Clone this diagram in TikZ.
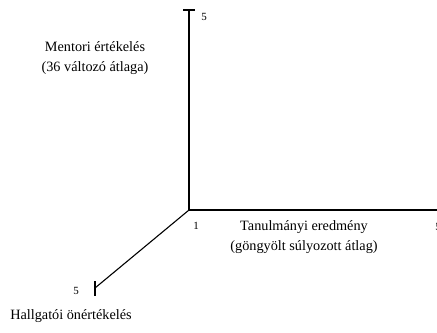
\documentclass[tikz,border=0pt]{standalone}
\usepackage{fontspec}
\setmainfont{Liberation Serif}
\begin{document}
\begin{tikzpicture}[x=1bp,y=-1bp,
  axis/.style={line width=1.5bp},
  lbl/.style={font=\fontsize{14.3}{20}\selectfont, align=center, inner sep=0pt},
  num/.style={font=\fontsize{11}{12}\selectfont, inner sep=0pt}]
\useasboundingbox (0,0) rectangle (437,332);
\coordinate (O) at (189,210);
\coordinate (Ytop) at (189,10);
\coordinate (Xend) at (440,210);
\coordinate (Zend) at (95,288);
\draw[axis] (O) -- (Ytop);
\draw[axis] (183,10) -- (195,10);
\draw[axis] (O) -- (Xend);
\draw[line width=1.1bp] (O) -- (Zend);
\draw[axis] (95,281) -- (95,296);
\node[num] (y5) at (204,17) {5};
\node[num] (o1) at (196,226) {1};
\node[num] (x5) at (438,227) {5};
\node[num] (z5) at (76,291) {5};
\node[lbl] (ylab) at (95,58) {Mentori értékelés\\(36 változó átlaga)};
\node[lbl] (xlab) at (304,237) {Tanulmányi eredmény\\(göngyölt súlyozott átlag)};
\node[lbl] (zlab) at (71,316) {Hallgatói önértékelés};
\end{tikzpicture}
\end{document}
